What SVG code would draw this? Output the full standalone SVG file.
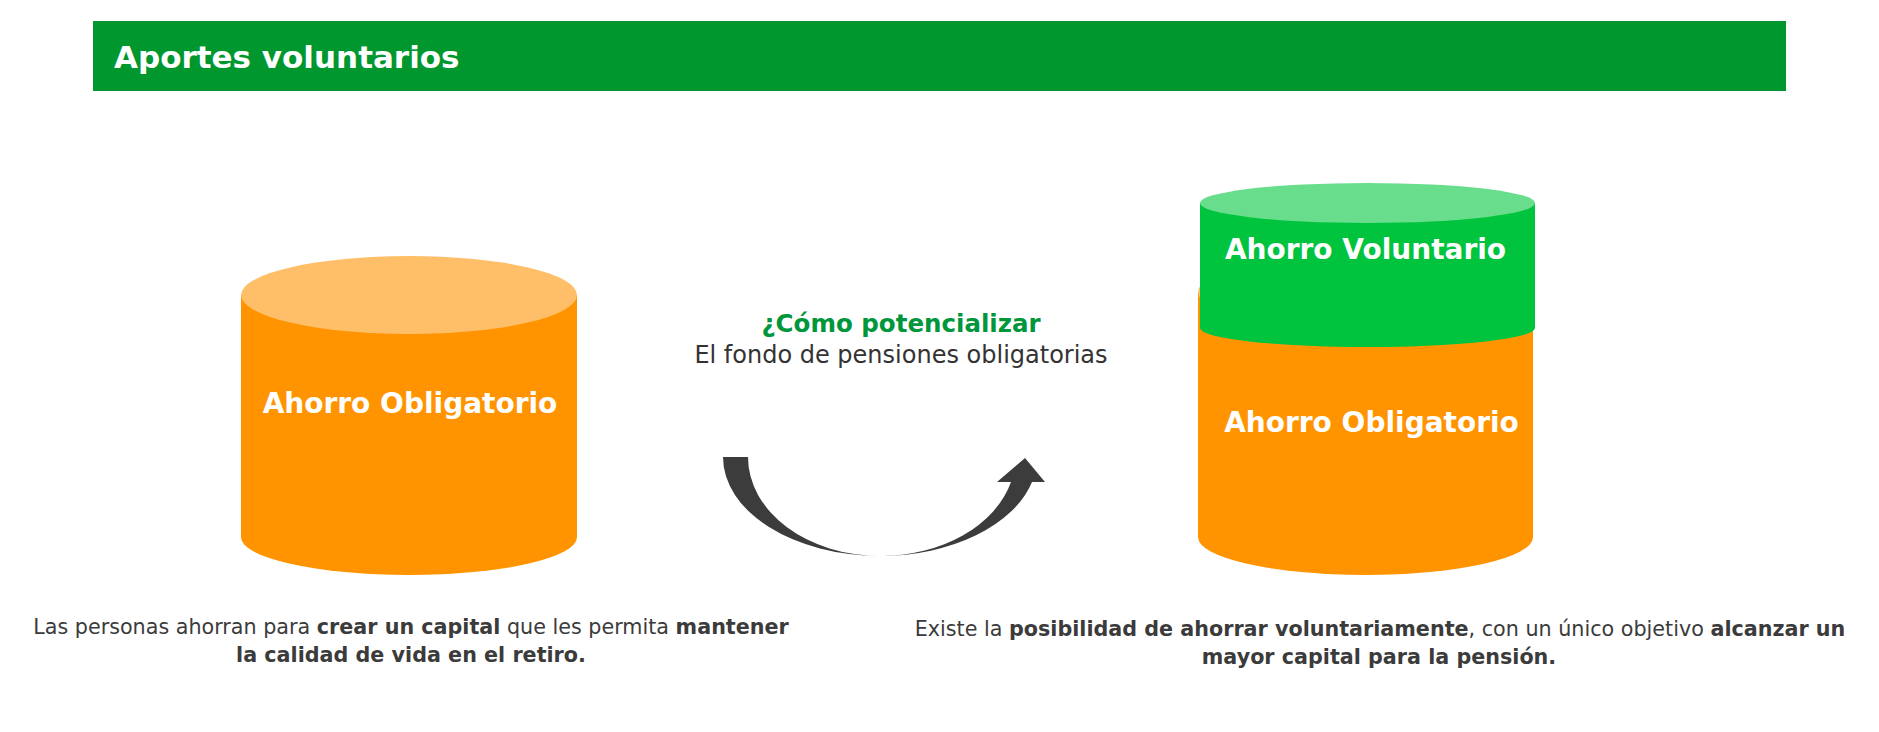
<svg xmlns="http://www.w3.org/2000/svg" width="1879" height="732" viewBox="0 0 1879 732">
<style>
text{font-family:"DejaVu Sans","Verdana",sans-serif}
.lbl{font-size:28px;font-weight:bold;fill:#ffffff}
.body{font-size:20.7px;fill:#3b3b3b}
.b{font-weight:bold}
.orange{fill:#FF9400}
.orangeTop{fill:#FFBF69}
.green{fill:#00C43E}
.greenTop{fill:#68DD8B}
</style>
<rect width="1879" height="732" fill="#ffffff"/>
<g id="header">
<rect x="93" y="21" width="1693" height="70" fill="#00972F"/>
<text x="114" y="68" font-size="31" font-weight="bold" fill="#ffffff">Aportes voluntarios</text>
</g>
<g id="left-cylinder">
<ellipse class="orange" cx="409" cy="537" rx="168" ry="38"/>
<rect class="orange" x="241" y="295" width="336" height="242"/>
<ellipse class="orangeTop" cx="409" cy="295" rx="168" ry="39"/>
<text class="lbl" x="410" y="413" text-anchor="middle">Ahorro Obligatorio</text>
</g>
<g id="right-cylinder">
<g id="obligatorio">
<ellipse class="orange" cx="1365.5" cy="537" rx="167.5" ry="38"/>
<rect class="orange" x="1198" y="292" width="335" height="245"/>
<ellipse class="orangeTop" cx="1365.5" cy="292" rx="167.5" ry="38"/>
<text class="lbl" x="1371.5" y="432" text-anchor="middle">Ahorro Obligatorio</text>
</g>
<g id="voluntario">
<ellipse class="green" cx="1367.5" cy="328" rx="167.5" ry="19"/>
<rect class="green" x="1200" y="203" width="335" height="125"/>
<ellipse class="greenTop" cx="1367.5" cy="203" rx="167.5" ry="20"/>
<text class="lbl" x="1365.5" y="259" text-anchor="middle">Ahorro Voluntario</text>
</g>
</g>
<g id="question">
<text x="901" y="332" text-anchor="middle" font-size="24.5" font-weight="bold" fill="#00963C">¿Cómo potencializar</text>
<text x="901" y="363" text-anchor="middle" font-size="24" fill="#333333">El fondo de pensiones obligatorias</text>
</g>
<g id="connectors">
<path d="M723,457 A157,99 0 0 0 880,556 A157,99 0 0 0 1032,482 L1045,482 L1025,458 L997,482 L1011,482 A135,99 0 0 1 880,556 A132,99 0 0 1 748,457 Z" fill="#3c3c3c"/>
</g>
<g id="left-caption">
<text class="body" x="411" y="634" text-anchor="middle">Las personas ahorran para <tspan class="b">crear un capital</tspan> que les permita <tspan class="b">mantener</tspan></text>
<text class="body b" x="411" y="662" text-anchor="middle">la calidad de vida en el retiro.</text>
</g>
<g id="right-caption">
<text class="body" x="1380" y="636" text-anchor="middle">Existe la <tspan class="b">posibilidad de ahorrar voluntariamente</tspan>, con un único objetivo <tspan class="b">alcanzar un</tspan></text>
<text class="body b" x="1379" y="664" text-anchor="middle">mayor capital para la pensión.</text>
</g>
</svg>
